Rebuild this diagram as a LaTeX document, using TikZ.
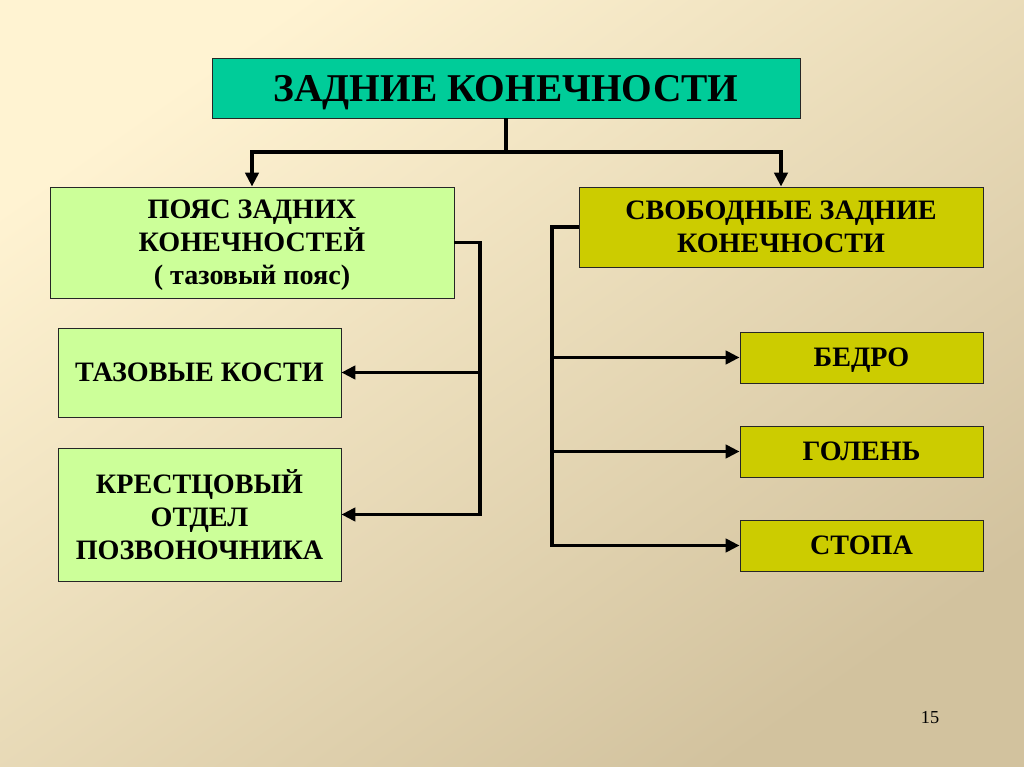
\documentclass[tikz,border=0pt]{standalone}
\usepackage{fontspec}
\setmainfont{Liberation Serif}
\usetikzlibrary{calc,arrows.meta}
\definecolor{bgtop}{HTML}{FFF3D2}
\definecolor{bgbot}{HTML}{D2C29E}
\definecolor{titlegreen}{HTML}{00CC99}
\definecolor{palegreen}{HTML}{CCFF99}
\definecolor{olivebox}{HTML}{CCCC00}
\def\px{0.025cm}
\tikzset{
	box/.style={
			draw=black!85, line width=0.6pt, inner sep=0pt, align=center, text depth=0pt,
			font=\bfseries\fontsize{20}{23.5}\selectfont
		},
	link/.style={line width=2.8pt, draw=black},
	arr/.style={link, -{Triangle[length=10pt, width=9.5pt]}}
}

\begin{document}
\begin{tikzpicture}[x=\px, y=-\px]
		% Background
		\useasboundingbox (0,0) rectangle (1024,767);
		\shade[top color=bgtop, bottom color=bgbot, shading angle=35] (0,0) rectangle (1024,767);

		% Boxes
		\node[box, fill=titlegreen, minimum width=588*\px, minimum height=60*\px,
			font=\bfseries\fontsize{28}{30}\selectfont] (limbs) at (506,88) {ЗАДНИЕ КОНЕЧНОСТИ};
		\node[box, fill=palegreen, minimum width=404*\px, minimum height=111*\px] (girdle) at (252,242.5)
			{ПОЯС ЗАДНИХ\\КОНЕЧНОСТЕЙ\\( тазовый пояс)};
		\node[box, fill=olivebox, minimum width=404*\px, minimum height=80*\px] (free) at (781,227)
			{СВОБОДНЫЕ ЗАДНИЕ\\КОНЕЧНОСТИ};
		\node[box, fill=palegreen, minimum width=283*\px, minimum height=89*\px] (pelvic) at (199.5,372.5)
			{ТАЗОВЫЕ КОСТИ};
		\node[box, fill=palegreen, minimum width=283*\px, minimum height=133*\px] (sacral) at (199.5,514.5)
			{КРЕСТЦОВЫЙ\\ОТДЕЛ\\ПОЗВОНОЧНИКА};
		\node[box, fill=olivebox, minimum width=243*\px, minimum height=51*\px] (thigh) at (861.5,357.5) {БЕДРО};
		\node[box, fill=olivebox, minimum width=243*\px, minimum height=51*\px] (shin) at (861.5,451.5) {ГОЛЕНЬ};
		\node[box, fill=olivebox, minimum width=243*\px, minimum height=51*\px] (foot) at (861.5,545.5) {СТОПА};

		% Top split
		\coordinate (split) at ($(limbs.south)+(0,34)$);
		\draw[link] (limbs.south) -- (split);
		\draw[arr] (split) -| (girdle.north);
		\draw[arr] (split) -| (free.north);

		% Left branch
		\coordinate (lj) at ($(girdle.east)+(26,0)$);
		\draw[arr] (girdle.east) -- (lj) |- (sacral.east);
		\draw[arr] (lj |- pelvic.east) -- (pelvic.east);

		% Right branch
		\coordinate (rj) at ($(free.west)+(-27,0)$);
		\draw[arr] (free.west) -- (rj) |- (foot.west);
		\foreach \b in {thigh, shin} {
			\draw[arr] (rj |- \b.west) -- (\b.west);
		}

		% Page number
		\node[font=\fontsize{13}{15}\selectfont] (page) at (930,718) {15};
	\end{tikzpicture}
\end{document}
